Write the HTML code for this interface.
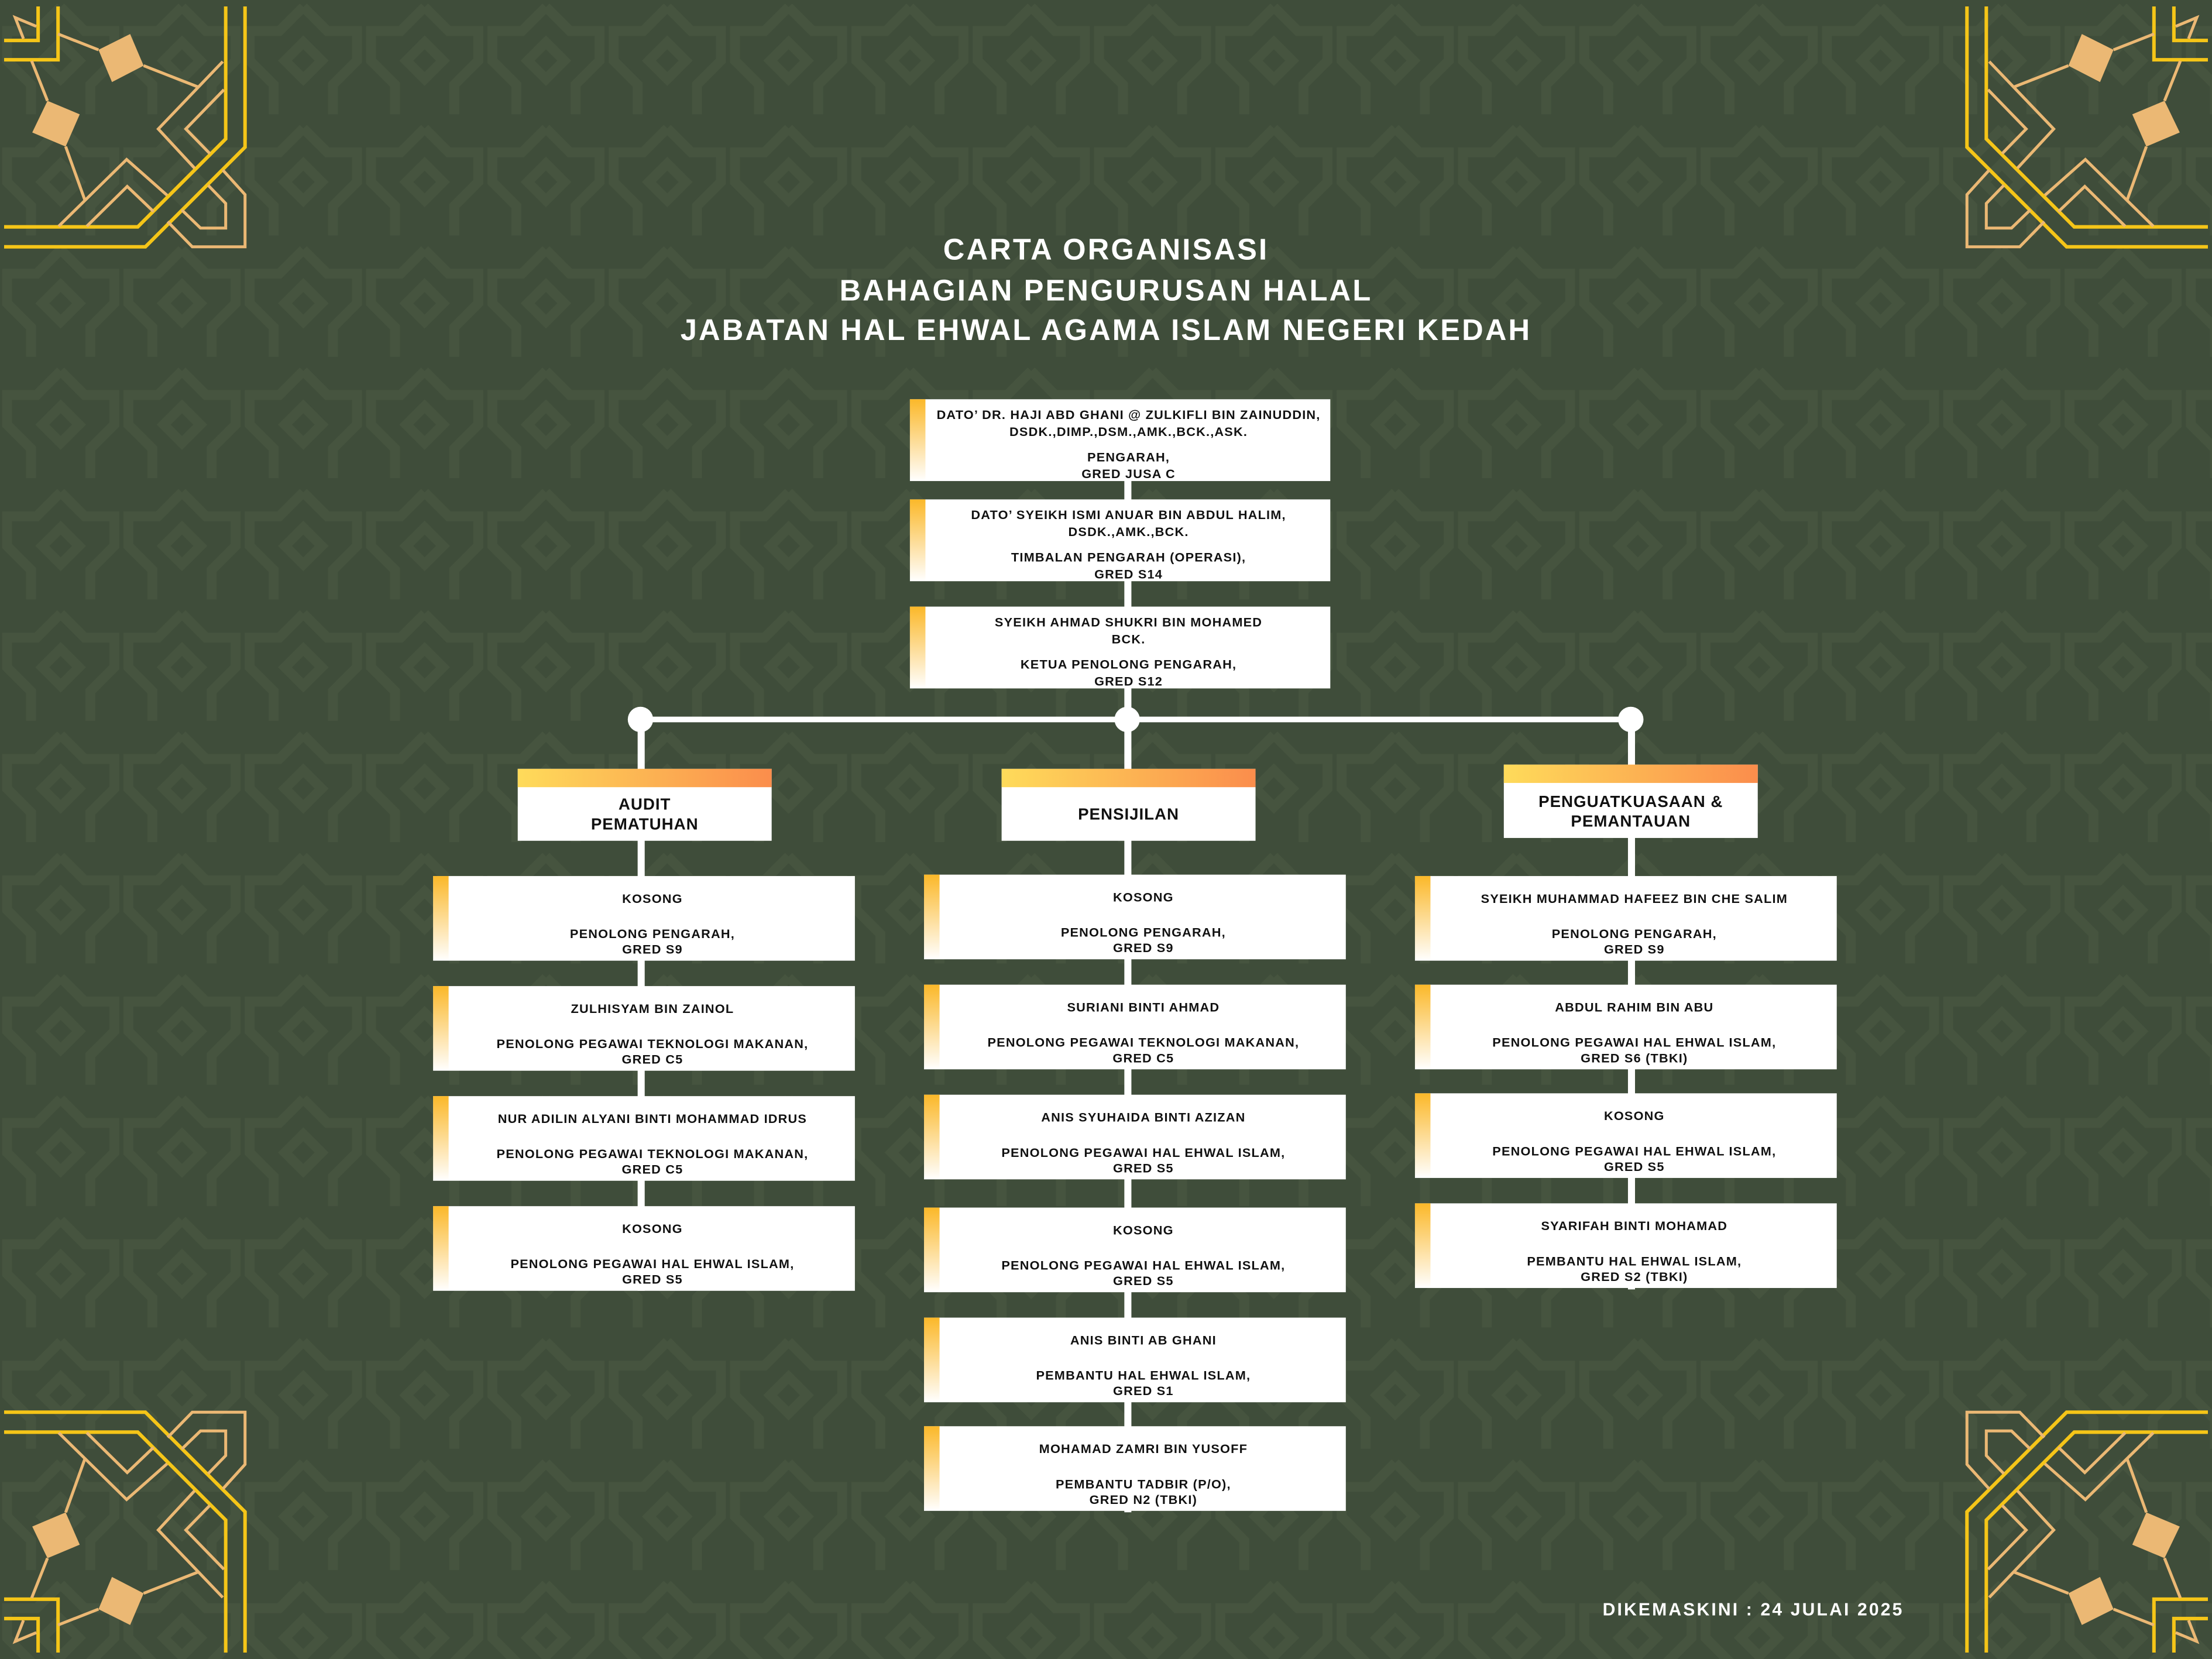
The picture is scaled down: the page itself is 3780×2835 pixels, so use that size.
<!DOCTYPE html>
<html><head><meta charset="utf-8"><style>
html,body{margin:0;padding:0;width:3780px;height:2835px;overflow:hidden;background:#3f4d3a}
#c{position:absolute;left:0;top:0;width:1568px;height:1176px;transform:scale(2.410714);transform-origin:0 0;font-family:"Liberation Sans",sans-serif;font-weight:bold;}
.bg{position:absolute;left:0;top:0;width:1568px;height:1176px}
.t{position:absolute;left:0;width:1568px;text-align:center;color:#fff;font-size:21px;letter-spacing:1.3px;line-height:28.5px;top:164px}
.ln{position:absolute;background:#fff}
.dot{position:absolute;width:18px;height:18px;border-radius:50%;background:#fff}
.b{position:absolute;background:#fff;box-sizing:border-box;color:#111;font-size:9px;letter-spacing:0.5px;line-height:11.5px;text-align:center;padding-left:12px}
.b:before{content:"";position:absolute;left:0;top:0;width:11px;height:100%;background:linear-gradient(#fbb829,rgba(255,255,255,0))}
.b .n{margin-top:11px}
.b .r{margin-top:13px}
.h{position:absolute;background:#fff;color:#111;font-size:11.5px;letter-spacing:0.4px;line-height:14px;text-align:center;display:flex;align-items:center;justify-content:center;box-sizing:border-box;padding-top:15px}
.h:before{content:"";position:absolute;left:0;top:0;width:100%;height:13px;background:linear-gradient(90deg,#fedb5a,#fb8d4c)}
.corner{position:absolute;width:187px;height:187px}
.ft{position:absolute;left:1136px;top:1134px;color:#fff;font-size:12.5px;letter-spacing:1.3px}
</style></head><body><div id="c">
<svg class="bg" viewBox="0 0 1568 1176"><defs><pattern id="p" width="86" height="86" patternUnits="userSpaceOnUse"><g fill="none" stroke="#46543f" stroke-width="7"><path d="M43 5 L60 22 L81 22 L81 43 L64 60 L64 81 M43 5 L26 22 L5 22 L5 43 L22 60 L22 81"/><path d="M43 30 L56 43 L43 56 L30 43 Z"/></g></pattern></defs><rect width="1568" height="1176" fill="url(#p)"/></svg>

<svg width="0" height="0" style="position:absolute"><defs><g id="orn" fill="none" stroke-linejoin="miter">
<g stroke="#f5c518" stroke-width="6"><path d="M7 69 H65 V11"/><path d="M7 102 H99 V11"/><path d="M7 421 H248 L418 251 V11"/><path d="M7 387 H235 L385 237 V11"/></g>
<g stroke="#ebb874" stroke-width="5"><path d="M62 45 L26 30 L40 66"/><path d="M99 58 L168 85 M245 112 L337 148"/><path d="M54 104 L81 172 M112 250 L145 342"/><path d="M380 105 L270 220 L332 287"/><path d="M382 153 L317 220 L358 262"/><path d="M100 386 L216 272 L285 333"/><path d="M148 386 L217 318 L262 361"/><path d="M380 290 L418 332 V421 H328 L286 378"/><path d="M355 316 L385 347 V389 H342 L310 358"/></g>
<g fill="#ebb874"><path d="M168 85 L222 58 L245 112 L191 140 Z"/><path d="M81 172 L136 195 L112 250 L55 226 Z"/></g>
</g></defs></svg>
<svg class="corner" style="left:0;top:0" viewBox="0 0 450 450"><use href="#orn"/></svg>
<svg class="corner" style="left:1381px;top:0;transform:scaleX(-1)" viewBox="0 0 450 450"><use href="#orn"/></svg>
<svg class="corner" style="left:0;top:989px;transform:scaleY(-1)" viewBox="0 0 450 450"><use href="#orn"/></svg>
<svg class="corner" style="left:1381px;top:989px;transform:scale(-1,-1)" viewBox="0 0 450 450"><use href="#orn"/></svg>

<div class="t">CARTA ORGANISASI<br>BAHAGIAN PENGURUSAN HALAL<br>JABATAN HAL EHWAL AGAMA ISLAM NEGERI KEDAH</div>

<div class="ln" style="left:797px;top:340px;width:5px;height:732px"></div>
<div class="ln" style="left:452px;top:510px;width:5px;height:405px"></div>
<div class="ln" style="left:1154px;top:510px;width:5px;height:404px"></div>
<div class="ln" style="left:454px;top:508px;width:703px;height:4px"></div>
<div class="dot" style="left:445px;top:501px"></div>
<div class="dot" style="left:790px;top:501px"></div>
<div class="dot" style="left:1147px;top:501px"></div>

<div class="b" style="left:645px;top:283px;width:298px;height:58px"><div style="margin-top:6px">DATO’ DR. HAJI ABD GHANI @ ZULKIFLI BIN ZAINUDDIN,<br>DSDK.,DIMP.,DSM.,AMK.,BCK.,ASK.</div><div style="margin-top:7px">PENGARAH,<br>GRED JUSA C</div></div>
<div class="b" style="left:645px;top:354px;width:298px;height:58px"><div style="margin-top:6px">DATO’ SYEIKH ISMI ANUAR BIN ABDUL HALIM,<br>DSDK.,AMK.,BCK.</div><div style="margin-top:7px">TIMBALAN PENGARAH (OPERASI),<br>GRED S14</div></div>
<div class="b" style="left:645px;top:430px;width:298px;height:58px"><div style="margin-top:6px">SYEIKH AHMAD SHUKRI BIN MOHAMED<br>BCK.</div><div style="margin-top:7px">KETUA PENOLONG PENGARAH,<br>GRED S12</div></div>

<div class="h" style="left:367px;top:545px;width:180px;height:51px">AUDIT<br>PEMATUHAN</div>
<div class="h" style="left:710px;top:545px;width:180px;height:51px">PENSIJILAN</div>
<div class="h" style="left:1066px;top:542px;width:180px;height:52px">PENGUATKUASAAN &amp;<br>PEMANTAUAN</div>

<div class="b" style="left:307px;top:621px;width:299px;height:60px"><div class="n">KOSONG</div><div class="r">PENOLONG PENGARAH,<br>GRED S9</div></div>
<div class="b" style="left:307px;top:699px;width:299px;height:60px"><div class="n">ZULHISYAM BIN ZAINOL</div><div class="r">PENOLONG PEGAWAI TEKNOLOGI MAKANAN,<br>GRED C5</div></div>
<div class="b" style="left:307px;top:777px;width:299px;height:60px"><div class="n">NUR ADILIN ALYANI BINTI MOHAMMAD IDRUS</div><div class="r">PENOLONG PEGAWAI TEKNOLOGI MAKANAN,<br>GRED C5</div></div>
<div class="b" style="left:307px;top:855px;width:299px;height:60px"><div class="n">KOSONG</div><div class="r">PENOLONG PEGAWAI HAL EHWAL ISLAM,<br>GRED S5</div></div>

<div class="b" style="left:655px;top:620px;width:299px;height:60px"><div class="n">KOSONG</div><div class="r">PENOLONG PENGARAH,<br>GRED S9</div></div>
<div class="b" style="left:655px;top:698px;width:299px;height:60px"><div class="n">SURIANI BINTI AHMAD</div><div class="r">PENOLONG PEGAWAI TEKNOLOGI MAKANAN,<br>GRED C5</div></div>
<div class="b" style="left:655px;top:776px;width:299px;height:60px"><div class="n">ANIS SYUHAIDA BINTI AZIZAN</div><div class="r">PENOLONG PEGAWAI HAL EHWAL ISLAM,<br>GRED S5</div></div>
<div class="b" style="left:655px;top:856px;width:299px;height:60px"><div class="n">KOSONG</div><div class="r">PENOLONG PEGAWAI HAL EHWAL ISLAM,<br>GRED S5</div></div>
<div class="b" style="left:655px;top:934px;width:299px;height:60px"><div class="n">ANIS BINTI AB GHANI</div><div class="r">PEMBANTU HAL EHWAL ISLAM,<br>GRED S1</div></div>
<div class="b" style="left:655px;top:1011px;width:299px;height:60px"><div class="n">MOHAMAD ZAMRI BIN YUSOFF</div><div class="r">PEMBANTU TADBIR (P/O),<br>GRED N2 (TBKI)</div></div>

<div class="b" style="left:1003px;top:621px;width:299px;height:60px"><div class="n">SYEIKH MUHAMMAD HAFEEZ BIN CHE SALIM</div><div class="r">PENOLONG PENGARAH,<br>GRED S9</div></div>
<div class="b" style="left:1003px;top:698px;width:299px;height:60px"><div class="n">ABDUL RAHIM BIN ABU</div><div class="r">PENOLONG PEGAWAI HAL EHWAL ISLAM,<br>GRED S6 (TBKI)</div></div>
<div class="b" style="left:1003px;top:775px;width:299px;height:60px"><div class="n">KOSONG</div><div class="r">PENOLONG PEGAWAI HAL EHWAL ISLAM,<br>GRED S5</div></div>
<div class="b" style="left:1003px;top:853px;width:299px;height:60px"><div class="n">SYARIFAH BINTI MOHAMAD</div><div class="r">PEMBANTU HAL EHWAL ISLAM,<br>GRED S2 (TBKI)</div></div>

<div class="ft">DIKEMASKINI : 24 JULAI 2025</div>
</div></body></html>
